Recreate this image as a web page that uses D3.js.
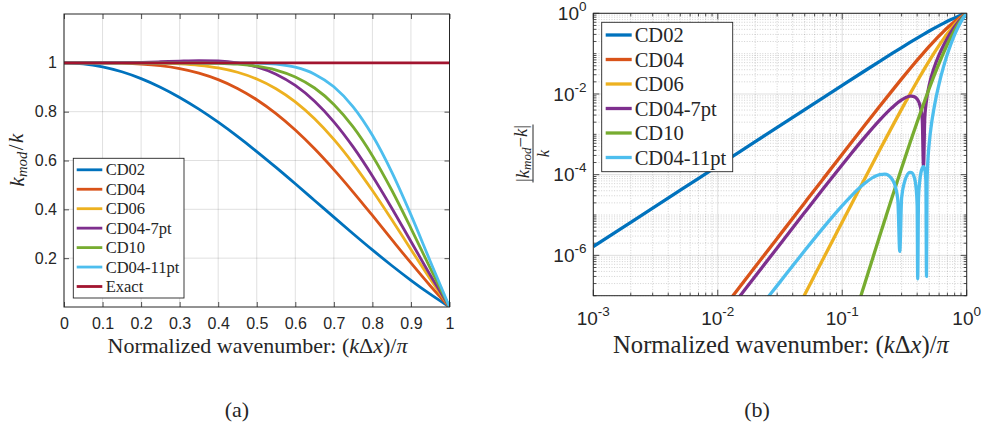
<!DOCTYPE html>
<html>
<head>
<meta charset="utf-8">
<script src="https://cdn.jsdelivr.net/npm/d3@7"></script>
<style>
  body { margin: 0; background: #fff; }
  svg { display: block; }
  .serif { font-family: "Liberation Serif", "Times New Roman", Times, serif; }
  .sans { font-family: "Liberation Sans", Arial, Helvetica, sans-serif; }
</style>
</head>
<body>
<svg id="fig" width="986" height="424"></svg>
<script>
// ---------------- data ----------------
const schemes = ["CD02", "CD04", "CD06", "CD04-7pt", "CD10", "CD04-11pt"];
const schemeColors = ["#0072BD", "#D95319", "#EDB120", "#7E2F8E", "#77AC30", "#4DBEEE"];
const exactLabel = "Exact";
const exactColor = "#A2142F";

// (a) modified-wavenumber ratio k_mod/k against (k dx)/pi
const waveA = [0, 0.05, 0.1, 0.15, 0.2, 0.25, 0.3, 0.35, 0.4, 0.45, 0.5,
               0.55, 0.6, 0.65, 0.7, 0.75, 0.8, 0.85, 0.9, 0.95, 1];
const ratioCD02 = [1, 0.995890, 0.983632, 0.963397, 0.935489, 0.900316, 0.858394, 0.810331, 0.756827, 0.698647, 0.636620,
                   0.571620, 0.504551, 0.436333, 0.367883, 0.300105, 0.233872, 0.170011, 0.109292, 0.052415, 0];
const ratioCD04 = [1, 0.999976, 0.999679, 0.998398, 0.995043, 0.988216, 0.976341, 0.957816, 0.931145, 0.895098, 0.848826,
                   0.791966, 0.724703, 0.647805, 0.562588, 0.470875, 0.374901, 0.277176, 0.180371, 0.087144, 0];
const ratioCD06 = [1, 1.000000, 0.999993, 0.999925, 0.999593, 0.998513, 0.995789, 0.990026, 0.979326, 0.961386, 0.933709,
                   0.893893, 0.839980, 0.770797, 0.686252, 0.587485, 0.476946, 0.358238, 0.235846, 0.114755, 0];
const ratioCD04_7pt = [1, 1.000012, 1.000177, 1.000816, 1.002249, 1.004520, 1.007146, 1.008837, 1.007463, 1.000097, 0.983280,
                       0.953419, 0.907303, 0.842631, 0.758469, 0.655583, 0.536542, 0.405577, 0.268238, 0.130882, 0];
const ratioCD10 = [1, 1.000000, 1.000000, 1.000000, 0.999997, 0.999974, 0.999854, 0.999393, 0.997976, 0.994335, 0.986255,
                   0.970374, 0.942276, 0.896970, 0.829782, 0.737528, 0.619674, 0.479139, 0.322446, 0.159056, 0];
const ratioCD04_11pt = [1, 1.000001, 1.000017, 1.000060, 1.000101, 1.000079, 0.999974, 0.999886, 0.999983, 1.000158, 0.999393,
                        0.994997, 0.982090, 0.953731, 0.901977, 0.819757, 0.703142, 0.553296, 0.377318, 0.187664, 0];
const exactWave = [0, 1];
const exactRatio = [1, 1];

// (b) relative error |k_mod - k|/k on log-log axes
const errWaveCD02 = [0.001, 0.002, 0.005, 0.01, 0.02, 0.05, 0.1, 0.15, 0.2, 0.25, 0.3, 0.35, 0.4, 0.45, 0.5,
                     0.55, 0.6, 0.65, 0.7, 0.75, 0.8, 0.85, 0.9, 0.95, 1];
const errCD02 = [1.6449e-6, 6.5797e-6, 4.1123e-5, 1.64485e-4, 6.5784e-4, 4.1073e-3, 0.016368, 0.036603, 0.064511, 0.099684,
                 0.141606, 0.189669, 0.243173, 0.301353, 0.363380, 0.428380, 0.495449, 0.563667, 0.632117, 0.699895,
                 0.766128, 0.829989, 0.890708, 0.947585, 1];

const errWaveCD04 = [0.01, 0.02, 0.03, 0.05, 0.07, 0.1, 0.15, 0.2, 0.25, 0.3, 0.35, 0.4, 0.45, 0.5,
                     0.55, 0.6, 0.65, 0.7, 0.75, 0.8, 0.85, 0.9, 0.95, 1];
const errCD04 = [3.247e-8, 5.1927e-7, 2.6273e-6, 2.0234e-5, 7.7512e-5, 3.2090e-4, 1.6009e-3, 4.9566e-3, 0.011784,
                 0.023659, 0.042184, 0.068855, 0.104902, 0.151174, 0.208034, 0.275297, 0.352195, 0.437412, 0.529125,
                 0.625099, 0.722824, 0.819629, 0.912856, 1];

const errWaveCD06 = [0.04, 0.05, 0.07, 0.1, 0.15, 0.2, 0.25, 0.3, 0.35, 0.4, 0.45, 0.5,
                     0.55, 0.6, 0.65, 0.7, 0.75, 0.8, 0.85, 0.9, 0.95, 1];
const errCD06 = [2.8128e-8, 1.0678e-7, 8.003e-7, 6.7365e-6, 7.4914e-5, 4.06996e-4, 1.48684e-3, 4.2109e-3, 9.974e-3,
                 0.020674, 0.038614, 0.066291, 0.106107, 0.160020, 0.229203, 0.313748, 0.412515, 0.523054, 0.641762,
                 0.764154, 0.885245, 1];

const errWaveCD04_7pt = [0.01, 0.015, 0.02, 0.03, 0.05, 0.07, 0.1, 0.12, 0.15, 0.2, 0.25, 0.3, 0.34, 0.35, 0.36, 0.38,
                         0.4, 0.42, 0.43, 0.44, 0.4497, 0.46, 0.47, 0.48, 0.5, 0.55, 0.6, 0.65, 0.7, 0.75, 0.8, 0.85,
                         0.9, 0.95, 1];
const errCD04_7pt = [1.8963e-8, 9.5998e-8, 3.034e-7, 1.5264e-6, 1.1647e-5, 4.4e-5, 1.7674e-4, 3.5503e-4, 8.164e-4,
                     2.2498e-3, 4.520e-3, 7.146e-3, 8.664e-3, 8.837e-3, 8.890e-3, 8.548e-3, 7.463e-3, 5.420e-3,
                     3.976e-3, 2.212e-3, 1.6e-4, 2.394e-3, 5.292e-3, 8.626e-3, 0.016720, 0.046581, 0.092697,
                     0.157369, 0.241531, 0.344417, 0.463458, 0.594423, 0.731762, 0.869118, 1];

const errWaveCD10 = [0.12, 0.14, 0.15, 0.2, 0.25, 0.3, 0.35, 0.4, 0.45, 0.5,
                     0.55, 0.6, 0.65, 0.7, 0.75, 0.8, 0.85, 0.9, 0.95, 1];
const errCD10 = [1.987e-8, 9.10e-8, 1.8015e-7, 3.0094e-6, 2.5912e-5, 1.45735e-4, 6.076e-4, 2.024e-3, 5.665e-3,
                 0.013745, 0.029626, 0.057724, 0.103030, 0.170218, 0.262472, 0.380326, 0.520861, 0.677554,
                 0.840944, 1];

const errWaveCD04_11pt = [0.02, 0.025, 0.03, 0.04, 0.05, 0.07, 0.1, 0.12, 0.15, 0.18, 0.2, 0.22, 0.25, 0.27, 0.28,
                          0.29, 0.3, 0.32, 0.35, 0.36, 0.38, 0.39, 0.4, 0.404, 0.41, 0.42, 0.44, 0.45, 0.46, 0.47,
                          0.4753, 0.48, 0.49, 0.5, 0.52, 0.55, 0.6, 0.65, 0.7, 0.75, 0.8, 0.85, 0.9, 0.95, 1];
const errCD04_11pt = [3.5952e-8, 8.7774e-8, 1.7773e-7, 5.515e-7, 1.3148e-6, 4.736e-6, 1.7119e-5, 3.1258e-5,
                      5.952e-5, 8.827e-5, 1.0091e-4, 1.0304e-4, 7.931e-5, 4.465e-5, 2.271e-5, 1.25e-6, 2.617e-5,
                      7.334e-5, 1.1385e-4, 1.1306e-4, 8.349e-5, 5.443e-5, 1.707e-5, 2.6e-7, 2.63e-5, 7.189e-5,
                      1.4624e-4, 1.5807e-4, 1.3774e-4, 7.047e-5, 3.0e-7, 6.150e-5, 2.7914e-4, 6.068e-4, 1.7075e-3,
                      5.0026e-3, 0.017910, 0.046269, 0.098023, 0.180243, 0.296858, 0.446704, 0.622682, 0.812336, 1];

// tick values
const xTicksA = [0, 0.1, 0.2, 0.3, 0.4, 0.5, 0.6, 0.7, 0.8, 0.9, 1];
const yTicksA = [0.2, 0.4, 0.6, 0.8, 1];
const xTicksB = [1e-3, 1e-2, 1e-1, 1];
const yTicksB = [1e-6, 1e-4, 1e-2, 1];
const xTickExpB = ["-3", "-2", "-1", "0"];
const yTickExpB = ["-6", "-4", "-2", "0"];

// ---------------- drawing ----------------
const ink = "#262626";

const svg = d3.select("#fig");
const defs = svg.append("defs");

const PA = { left: 64, right: 449.5, top: 14, bottom: 307 };
const PB = { left: 593.3, right: 966.7, top: 13.3, bottom: 295.7 };

const xA = d3.scaleLinear().domain([0, 1]).range([PA.left, PA.right]);
const yA = d3.scaleLinear().domain([0, 1.2]).range([PA.bottom, PA.top]);
const xB = d3.scaleLog().domain([1e-3, 1]).range([PB.left, PB.right]);
const yB = d3.scaleLog().domain([1e-7, 1]).range([PB.bottom, PB.top]);

function clipRect(id, P) {
  defs.append("clipPath").attr("id", id).append("rect")
    .attr("x", P.left).attr("y", P.top)
    .attr("width", P.right - P.left).attr("height", P.bottom - P.top);
}
clipRect("clipA", PA);
clipRect("clipB", PB);

// scale a text element's font so that it spans the given width
function fitWidth(t, base, width) {
  const w = t.node().getComputedTextLength();
  if (w > 0) t.attr("font-size", base * width / w);
}

function styleAxis(g) {
  g.select(".domain").remove();
  g.selectAll(".tick line").attr("stroke", ink).attr("stroke-width", 0.8);
  g.selectAll(".tick text").attr("fill", ink).attr("font-family", null).attr("class", "sans");
}

// ===== panel (a) =====
const gA = svg.append("g");
const gridA = gA.append("g").attr("stroke", ink).attr("stroke-opacity", 0.14).attr("stroke-width", 1);
gridA.selectAll(".gx").data(xTicksA).join("line")
  .attr("x1", d => xA(d)).attr("x2", d => xA(d)).attr("y1", PA.top).attr("y2", PA.bottom);
gridA.selectAll(".gy").data(yTicksA).join("line")
  .attr("x1", PA.left).attr("x2", PA.right).attr("y1", d => yA(d)).attr("y2", d => yA(d));

gA.append("g").attr("transform", `translate(0,${PA.bottom})`)
  .call(d3.axisBottom(xA).tickValues(xTicksA).tickSize(-5).tickPadding(10.5).tickFormat(d3.format("~g")))
  .call(styleAxis).call(g => g.selectAll("text").attr("font-size", 16));
gA.append("g").attr("transform", `translate(0,${PA.top})`)
  .call(d3.axisTop(xA).tickValues(xTicksA).tickSize(-5).tickFormat(""))
  .call(styleAxis);
gA.append("g").attr("transform", `translate(${PA.left},0)`)
  .call(d3.axisLeft(yA).tickValues(yTicksA).tickSize(-5).tickPadding(7).tickFormat(d3.format("~g")))
  .call(styleAxis).call(g => g.selectAll("text").attr("font-size", 16));
gA.append("g").attr("transform", `translate(${PA.right},0)`)
  .call(d3.axisRight(yA).tickValues(yTicksA).tickSize(-5).tickFormat(""))
  .call(styleAxis);

const ratiosA = [ratioCD02, ratioCD04, ratioCD06, ratioCD04_7pt, ratioCD10, ratioCD04_11pt];
const lineA = d3.line().x(d => xA(d[0])).y(d => yA(d[1])).curve(d3.curveMonotoneX);
const curvesA = gA.append("g").attr("clip-path", "url(#clipA)").attr("fill", "none")
  .attr("stroke-width", 2.8).attr("stroke-linejoin", "round");
ratiosA.forEach((vals, i) => {
  curvesA.append("path").attr("d", lineA(d3.zip(waveA, vals))).attr("stroke", schemeColors[i]);
});
curvesA.append("path").attr("d", lineA(d3.zip(exactWave, exactRatio))).attr("stroke", exactColor);

gA.append("rect").attr("x", PA.left).attr("y", PA.top)
  .attr("width", PA.right - PA.left).attr("height", PA.bottom - PA.top)
  .attr("fill", "none").attr("stroke", ink).attr("stroke-width", 1);

// legend (a)
const legA = gA.append("g");
legA.append("rect").attr("x", 73.3).attr("y", 158.3).attr("width", 110.7).attr("height", 139.7)
  .attr("fill", "#fff").attr("stroke", ink).attr("stroke-width", 0.9);
const legAItems = schemes.map((s, i) => ({ name: s, color: schemeColors[i] }))
  .concat([{ name: exactLabel, color: exactColor }]);
legAItems.forEach((it, i) => {
  const y = 169.8 + i * 19.45;
  legA.append("line").attr("x1", 76.7).attr("x2", 102.3).attr("y1", y).attr("y2", y)
    .attr("stroke", it.color).attr("stroke-width", 2.8);
  legA.append("text").attr("class", "serif").attr("x", 105.7).attr("y", y + 5.6)
    .attr("font-size", 16.5).attr("fill", ink).text(it.name);
});

// axis labels (a)
function waveLabel(g, cx, y, width) {
  const t = g.append("text").attr("class", "serif").attr("x", cx).attr("y", y).attr("text-anchor", "middle")
    .attr("font-size", 20).attr("fill", ink);
  t.append("tspan").text("Normalized wavenumber:  (");
  t.append("tspan").attr("font-style", "italic").text("k");
  t.append("tspan").text("Δ");
  t.append("tspan").attr("font-style", "italic").text("x");
  t.append("tspan").text(")/");
  t.append("tspan").attr("font-style", "italic").text("π");
  fitWidth(t, 20, width);
}
waveLabel(gA, 257.5, 353, 300);

const ylabA = gA.append("text").attr("class", "serif").attr("transform", "translate(24,160) rotate(-90)")
  .attr("text-anchor", "middle").attr("font-size", 21).attr("fill", ink);
ylabA.append("tspan").attr("font-style", "italic").text("k");
ylabA.append("tspan").attr("font-style", "italic").attr("font-size", "0.7em").attr("dy", "0.22em").text("mod");
ylabA.append("tspan").attr("dy", "-0.22em").attr("dx", 1.5).text("/");
ylabA.append("tspan").attr("font-style", "italic").attr("dx", 1.5).text("k");

svg.append("text").attr("class", "serif").attr("x", 237).attr("y", 417).attr("text-anchor", "middle")
  .attr("font-size", 22).attr("fill", ink).text("(a)");

// ===== panel (b) =====
const gB = svg.append("g");
const decadesX = d3.range(-3, 0);
const decadesY = d3.range(-7, 0);
const minorX = decadesX.flatMap(d => d3.range(2, 10).map(m => m * Math.pow(10, d)));
const minorY = decadesY.flatMap(d => d3.range(1, 10).map(m => m * Math.pow(10, d)))
  .filter(v => !yTicksB.some(t => Math.abs(Math.log10(v) - Math.log10(t)) < 1e-9));

const gridB = gB.append("g");
gridB.selectAll(".mx").data(minorX).join("line")
  .attr("x1", d => xB(d)).attr("x2", d => xB(d)).attr("y1", PB.top).attr("y2", PB.bottom)
  .attr("stroke", ink).attr("stroke-opacity", 0.3).attr("stroke-width", 0.7).attr("stroke-dasharray", "1,1.6");
gridB.selectAll(".my").data(minorY).join("line")
  .attr("x1", PB.left).attr("x2", PB.right).attr("y1", d => yB(d)).attr("y2", d => yB(d))
  .attr("stroke", ink).attr("stroke-opacity", 0.3).attr("stroke-width", 0.7).attr("stroke-dasharray", "1,1.6");
gridB.selectAll(".gx").data(xTicksB).join("line")
  .attr("x1", d => xB(d)).attr("x2", d => xB(d)).attr("y1", PB.top).attr("y2", PB.bottom)
  .attr("stroke", ink).attr("stroke-opacity", 0.15).attr("stroke-width", 1);
gridB.selectAll(".gy").data(yTicksB).join("line")
  .attr("x1", PB.left).attr("x2", PB.right).attr("y1", d => yB(d)).attr("y2", d => yB(d))
  .attr("stroke", ink).attr("stroke-opacity", 0.15).attr("stroke-width", 1);

// ticks on all four sides
const ticksB = gB.append("g").attr("stroke", ink).attr("stroke-width", 0.8);
[[xTicksB, 6], [minorX, 3]].forEach(([vals, len]) => {
  ticksB.selectAll(null).data(vals).join("line")
    .attr("x1", d => xB(d)).attr("x2", d => xB(d)).attr("y1", PB.bottom).attr("y2", PB.bottom - len);
  ticksB.selectAll(null).data(vals).join("line")
    .attr("x1", d => xB(d)).attr("x2", d => xB(d)).attr("y1", PB.top).attr("y2", PB.top + len);
});
[[yTicksB, 6], [minorY, 3]].forEach(([vals, len]) => {
  ticksB.selectAll(null).data(vals).join("line")
    .attr("x1", PB.left).attr("x2", PB.left + len).attr("y1", d => yB(d)).attr("y2", d => yB(d));
  ticksB.selectAll(null).data(vals).join("line")
    .attr("x1", PB.right).attr("x2", PB.right - len).attr("y1", d => yB(d)).attr("y2", d => yB(d));
});

// power-of-ten tick labels
const xLabB = gB.append("g").selectAll("text").data(xTicksB).join("text")
  .attr("class", "sans").attr("x", d => xB(d)).attr("y", 325).attr("text-anchor", "middle")
  .attr("font-size", 19).attr("fill", ink);
xLabB.append("tspan").text("10");
xLabB.append("tspan").attr("font-size", 13.5).attr("dy", -9).text((d, i) => xTickExpB[i]);

const yLabB = gB.append("g").selectAll("text").data(yTicksB).join("text")
  .attr("class", "sans").attr("x", 586.5).attr("y", d => yB(d) + 6.8).attr("text-anchor", "end")
  .attr("font-size", 19).attr("fill", ink);
yLabB.append("tspan").text("10");
yLabB.append("tspan").attr("font-size", 13.5).attr("dy", -9).text((d, i) => yTickExpB[i]);

const errWaves = [errWaveCD02, errWaveCD04, errWaveCD06, errWaveCD04_7pt, errWaveCD10, errWaveCD04_11pt];
const errVals = [errCD02, errCD04, errCD06, errCD04_7pt, errCD10, errCD04_11pt];
const lineB = d3.line().x(d => xB(d[0])).y(d => yB(d[1])).curve(d3.curveMonotoneX);
const curvesB = gB.append("g").attr("clip-path", "url(#clipB)").attr("fill", "none")
  .attr("stroke-width", 3.3).attr("stroke-linejoin", "round");
errVals.forEach((vals, i) => {
  curvesB.append("path").attr("d", lineB(d3.zip(errWaves[i], vals))).attr("stroke", schemeColors[i]);
});

gB.append("rect").attr("x", PB.left).attr("y", PB.top)
  .attr("width", PB.right - PB.left).attr("height", PB.bottom - PB.top)
  .attr("fill", "none").attr("stroke", ink).attr("stroke-width", 1);

// legend (b)
const legB = gB.append("g");
legB.append("rect").attr("x", 601.7).attr("y", 22.3).attr("width", 131).attr("height", 149.4)
  .attr("fill", "#fff").attr("stroke", ink).attr("stroke-width", 0.9);
schemes.forEach((s, i) => {
  const y = 35 + i * 24.5;
  legB.append("line").attr("x1", 605.7).attr("x2", 631.7).attr("y1", y).attr("y2", y)
    .attr("stroke", schemeColors[i]).attr("stroke-width", 3.3);
  legB.append("text").attr("class", "serif").attr("x", 634.7).attr("y", y + 7)
    .attr("font-size", 20.5).attr("fill", ink).text(s);
});

// axis labels (b)
waveLabel(gB, 781, 353, 336);

const ylabB = gB.append("g").attr("class", "serif").attr("transform", "translate(533,153.5) rotate(-90)")
  .attr("fill", ink);
ylabB.append("line").attr("x1", -29).attr("x2", 29).attr("y1", 0).attr("y2", 0)
  .attr("stroke", ink).attr("stroke-width", 1);
const num = ylabB.append("text").attr("x", 0).attr("y", -4.5).attr("text-anchor", "middle").attr("font-size", 16);
num.append("tspan").text("|");
num.append("tspan").attr("font-style", "italic").text("k");
num.append("tspan").attr("font-style", "italic").attr("font-size", "0.7em").attr("dy", "0.2em").text("mod");
num.append("tspan").attr("dy", "-0.2em").text("−");
num.append("tspan").attr("font-style", "italic").text("k");
num.append("tspan").text("|");
fitWidth(num, 16, 57);
ylabB.append("text").attr("x", 0).attr("y", 15.5).attr("text-anchor", "middle")
  .attr("font-size", 16.5).attr("font-style", "italic").text("k");

svg.append("text").attr("class", "serif").attr("x", 757).attr("y", 417).attr("text-anchor", "middle")
  .attr("font-size", 22).attr("fill", ink).text("(b)");
</script>
</body>
</html>
